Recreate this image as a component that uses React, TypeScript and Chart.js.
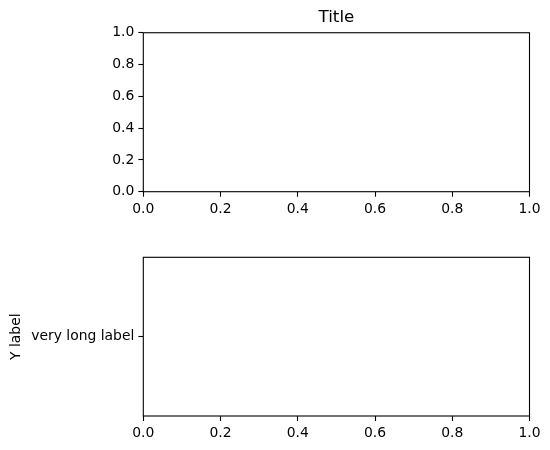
import React, { useEffect, useRef } from "react";
import { Chart, registerables } from "chart.js";

Chart.register(...registerables);

const titleText = "Title";
const xTickValues = [0, 0.2, 0.4, 0.6, 0.8, 1.0];
const topYTickValues = [0, 0.2, 0.4, 0.6, 0.8, 1.0];
const bottomYTickValues = [0.5];
const bottomYTickLabels = ["very long label"];
const bottomYLabel = "Y label";

const FONT = "'DejaVu Sans', sans-serif";
const TICK_SIZE = 13.9;

const framePlugin = {
  id: "frame",
  afterDraw(chart: any) {
    const { ctx, chartArea } = chart;
    ctx.save();
    ctx.strokeStyle = "#000";
    ctx.lineWidth = 1.1;
    ctx.strokeRect(chartArea.left, chartArea.top, chartArea.right - chartArea.left, chartArea.bottom - chartArea.top);
    ctx.restore();
  },
};

function xScale() {
  return {
    type: "linear",
    min: 0,
    max: 1,
    afterBuildTicks: (s: any) => {
      s.ticks = xTickValues.map((v) => ({ value: v }));
    },
    afterFit: (s: any) => {
      s.height = 30;
    },
    ticks: {
      color: "#000",
      font: { family: FONT, size: TICK_SIZE },
      padding: 4,
      maxRotation: 0,
      callback: (v: any) => Number(v).toFixed(1),
    },
    grid: { drawOnChartArea: false, tickLength: 5, tickColor: "#000", tickWidth: 1.1 },
    border: { display: false },
  };
}

function makeYScale(values: number[], labels: string[] | null, title: string | null) {
  return {
    type: "linear",
    min: 0,
    max: 1,
    afterBuildTicks: (s: any) => {
      s.ticks = values.map((v) => ({ value: v }));
    },
    afterFit: (s: any) => {
      s.width = 143.3;
    },
    ticks: {
      color: "#000",
      font: { family: FONT, size: TICK_SIZE },
      padding: 4,
      callback: (v: any) => {
        if (labels) {
          const i = values.indexOf(Number(v));
          return i >= 0 ? labels[i] : "";
        }
        return Number(v).toFixed(1);
      },
    },
    title: title
      ? {
          display: true,
          text: title,
          color: "#000",
          font: { family: FONT, size: TICK_SIZE },
          padding: { top: 8.5, bottom: 0 },
        }
      : { display: false },
    grid: { drawOnChartArea: false, tickLength: 5, tickColor: "#000", tickWidth: 1.1 },
    border: { display: false },
  };
}

export default function App() {
  const ref1 = useRef<HTMLCanvasElement>(null);
  const ref2 = useRef<HTMLCanvasElement>(null);

  useEffect(() => {
    const c1 = new Chart(ref1.current as HTMLCanvasElement, {
      type: "line",
      data: { datasets: [] },
      plugins: [framePlugin],
      options: {
        animation: false,
        responsive: false,
        events: [],
        layout: { padding: { left: 0, right: 20.5, top: 0, bottom: 450 - 191.7 - 30 } },
        plugins: {
          legend: { display: false },
          tooltip: { enabled: false },
          title: {
            display: true,
            fullSize: false,
            text: titleText,
            color: "#000",
            font: { family: FONT, size: 16.7, weight: "normal" },
            padding: { top: 7.5, bottom: 5.2 },
          },
        },
        scales: {
          x: xScale(),
          y: makeYScale(topYTickValues, null, null),
        },
      } as any,
    });
    const c2 = new Chart(ref2.current as HTMLCanvasElement, {
      type: "line",
      data: { datasets: [] },
      plugins: [framePlugin],
      options: {
        animation: false,
        responsive: false,
        events: [],
        layout: { padding: { left: 0, right: 20.5, top: 257.3, bottom: 450 - 416 - 30 } },
        plugins: {
          legend: { display: false },
          tooltip: { enabled: false },
          title: { display: false },
        },
        scales: {
          x: xScale(),
          y: makeYScale(bottomYTickValues, bottomYTickLabels, bottomYLabel),
        },
      } as any,
    });
    return () => {
      c1.destroy();
      c2.destroy();
    };
  }, []);

  return (
    <div style={{ position: "fixed", left: 0, top: 0, width: 550, height: 450, background: "#fff" }}>
      <canvas ref={ref1} width={550} height={450} style={{ position: "absolute", left: 0, top: 0 }} />
      <canvas ref={ref2} width={550} height={450} style={{ position: "absolute", left: 0, top: 0 }} />
    </div>
  );
}
